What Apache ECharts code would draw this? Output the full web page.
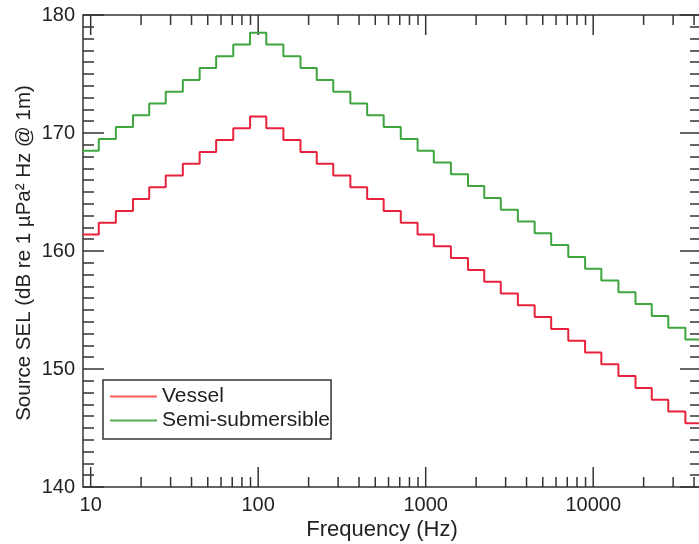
<!DOCTYPE html>
<html>
<head>
<meta charset="utf-8">
<script src="https://cdn.jsdelivr.net/npm/echarts@6/dist/echarts.min.js"></script>
<style>html,body{margin:0;padding:0;background:#fff;}#c{width:699px;height:544px;}</style>
</head>
<body>
<div id="c"></div>
<script>
// third-octave band centre frequencies (Hz)
const freqs = [10,12.5,16,20,25,31.5,40,50,63,80,100,125,160,200,250,315,400,500,630,800,1000,1250,1600,2000,2500,3150,4000,5000,6300,8000,10000,12500,16000,20000,25000,31500,40000];
// Source SEL, dB re 1 µPa² Hz @ 1m
const vessel = [161.4,162.4,163.4,164.4,165.4,166.4,167.4,168.4,169.4,170.4,171.4,170.4,169.4,168.4,167.4,166.4,165.4,164.4,163.4,162.4,161.4,160.4,159.4,158.4,157.4,156.4,155.4,154.4,153.4,152.4,151.4,150.4,149.4,148.4,147.4,146.4,145.4];
const semiSub = [168.5,169.5,170.5,171.5,172.5,173.5,174.5,175.5,176.5,177.5,178.5,177.5,176.5,175.5,174.5,173.5,172.5,171.5,170.5,169.5,168.5,167.5,166.5,165.5,164.5,163.5,162.5,161.5,160.5,159.5,158.5,157.5,156.5,155.5,154.5,153.5,152.5];
// axis ticks
const xMajorTicks = [10,100,1000,10000];
const xMinorTicks = [20,30,40,50,60,70,80,90,200,300,400,500,600,700,800,900,2000,3000,4000,5000,6000,7000,8000,9000,20000,30000,40000];
const yMin = 140, yMax = 180, yStep = 10;
const xMin = 9, xMax = 44000;

// build step polyline: each band spans between geometric-mean edges
function stepPoints(fc, vals) {
  const n = fc.length, edges = [];
  for (let i = 1; i < n; i++) edges[i] = Math.sqrt(fc[i-1]*fc[i]);
  edges[0] = fc[0]*fc[0]/edges[1];
  edges[n] = fc[n-1]*fc[n-1]/edges[n-1];
  const pts = [];
  for (let i = 0; i < n; i++) { pts.push([edges[i], vals[i]]); pts.push([edges[i+1], vals[i]]); }
  return pts;
}

const tickData = xMinorTicks.map(f => [f, yMin, 0]).concat(xMajorTicks.map(f => [f, yMin, 1]));
const FONT = '"Liberation Sans", Arial, Helvetica, sans-serif';
const AX = '#333';

const chart = echarts.init(document.getElementById('c'), null, {renderer: 'canvas'});
chart.setOption({
  animation: false,
  backgroundColor: '#fff',
  grid: {left: 83, top: 15, width: 618, height: 472, outerBoundsMode: 'none', containLabel: false,
         show: true, borderColor: AX, borderWidth: 1.5, backgroundColor: 'transparent'},
  xAxis: {
    type: 'log', min: xMin, max: xMax, logBase: 10,
    axisLine: {show: false}, axisTick: {show: false}, splitLine: {show: false}, minorTick: {show: false},
    axisLabel: {
      fontSize: 20, fontFamily: FONT, color: '#222', margin: 8,
      formatter: v => { const l = Math.log10(v); return Math.abs(l - Math.round(l)) < 1e-6 ? String(Math.round(v)) : ''; }
    }
  },
  yAxis: [
    {type: 'value', min: yMin, max: yMax, interval: yStep, position: 'left',
     axisLine: {show: false}, splitLine: {show: false},
     axisTick: {show: true, inside: true, length: 21, lineStyle: {color: AX, width: 1.5}},
     minorTick: {show: true, splitNumber: 10, length: 11, lineStyle: {color: AX, width: 1.5}},
     axisLabel: {fontSize: 20, fontFamily: FONT, color: '#222', margin: 8}},
    {type: 'value', min: yMin, max: yMax, interval: yStep, position: 'right',
     axisLine: {show: false}, splitLine: {show: false},
     axisTick: {show: true, inside: true, length: 21, lineStyle: {color: AX, width: 1.5}},
     minorTick: {show: true, splitNumber: 10, length: 11, lineStyle: {color: AX, width: 1.5}},
     axisLabel: {show: false}}
  ],
  legend: {
    orient: 'vertical', left: 103, top: 380,
    padding: [6, 1, 8, 7], itemGap: 3,
    borderColor: AX, borderWidth: 1.5,
    icon: 'rect', itemWidth: 47, itemHeight: 2,
    textStyle: {fontSize: 21, fontFamily: FONT, color: '#222', lineHeight: 21},
    data: [
      {name: 'Vessel', itemStyle: {color: '#ff5c5c'}},
      {name: 'Semi-submersible', itemStyle: {color: '#55aa55'}}
    ]
  },
  graphic: [
    {type: 'text', x: 382, y: 530,
     style: {text: 'Frequency (Hz)', font: '22px ' + FONT, fill: '#222', textAlign: 'center', textVerticalAlign: 'middle'}},
    {type: 'text', x: 24, y: 253, rotation: Math.PI/2,
     style: {text: 'Source SEL (dB re 1 µPa² Hz @ 1m)', font: '20.5px ' + FONT, fill: '#222', textAlign: 'center', textVerticalAlign: 'middle'}}
  ],
  series: [
    {name: 'Semi-submersible', type: 'line', data: stepPoints(freqs, semiSub), showSymbol: false, clip: true,
     lineStyle: {color: '#3fa63f', width: 2}, itemStyle: {color: '#3fa63f'}},
    {name: 'Vessel', type: 'line', data: stepPoints(freqs, vessel), showSymbol: false, clip: true,
     lineStyle: {color: '#e8223c', width: 2}, itemStyle: {color: '#e8223c'}},
    {name: 'xticks', type: 'custom', data: tickData, silent: true, clip: false,
     renderItem: function (params, api) {
       const f = api.value(0), major = api.value(2);
       const len = major ? 20 : 10;
       const b = api.coord([f, yMin]), t = api.coord([f, yMax]);
       const st = {stroke: AX, lineWidth: 1.5};
       return {type: 'group', children: [
         {type: 'line', shape: {x1: b[0], y1: b[1], x2: b[0], y2: b[1] - len}, style: st},
         {type: 'line', shape: {x1: t[0], y1: t[1], x2: t[0], y2: t[1] + len}, style: st}
       ]};
     }}
  ]
});
</script>
</body>
</html>
